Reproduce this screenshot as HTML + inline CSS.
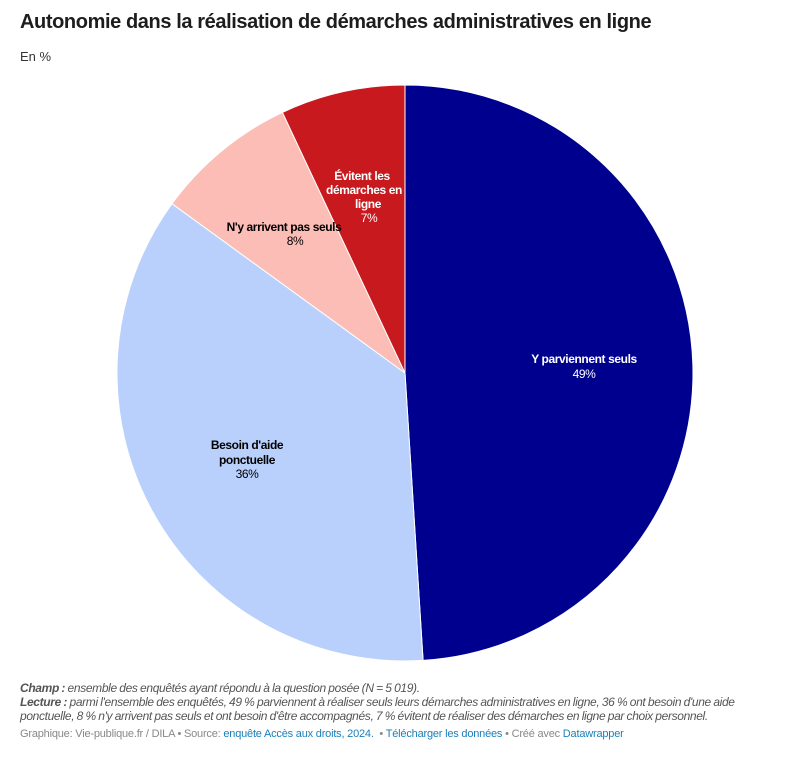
<!DOCTYPE html>
<html><head><meta charset="utf-8"><style>
body{margin:0;width:792px;height:775px;background:#fff;font-family:"Liberation Sans",sans-serif;position:relative;overflow:hidden}
.t{position:absolute;left:20px;top:11px;font-size:20px;font-weight:bold;color:#1d1d1d;letter-spacing:-0.4px}
.s{position:absolute;left:20px;top:49px;font-size:13px;color:#333}
.f{position:absolute;left:20px;top:681px;font-size:12px;color:#555;font-style:italic;line-height:14px;width:780px;letter-spacing:-0.35px;word-spacing:-0.5px}
.g{position:absolute;left:20px;top:728px;font-size:11px;color:#888;letter-spacing:-0.2px}
.g a{color:#1a7fb8;text-decoration:none}
</style></head><body>
<div class="t">Autonomie dans la réalisation de démarches administratives en ligne</div>
<div class="s">En %</div>
<svg width="792" height="775" style="position:absolute;left:0;top:0">
<g stroke="#fff" stroke-width="1">
<path d="M405,373 L405,85 A288,288 0 0 1 423.08,660.43 Z" fill="#00008f"/>
<path d="M405,373 L423.08,660.43 A288,288 0 0 1 172,203.7 Z" fill="#b8d0fb"/>
<path d="M405,373 L172,203.7 A288,288 0 0 1 282.4,112.4 Z" fill="#fbbdb6"/>
<path d="M405,373 L282.4,112.4 A288,288 0 0 1 405,85 Z" fill="#c8191e"/>
</g>
<g font-family="Liberation Sans,sans-serif" font-size="12" text-anchor="middle" letter-spacing="-0.4">
<text x="584" y="363" fill="#fff" font-weight="bold">Y parviennent seuls</text>
<text x="584" y="378" fill="#fff">49%</text>
<text x="247" y="449" fill="#000" font-weight="bold">Besoin d'aide</text>
<text x="247" y="464" fill="#000" font-weight="bold">ponctuelle</text>
<text x="247" y="478" fill="#000">36%</text>
<text x="284" y="231" fill="#000" font-weight="bold">N'y arrivent pas seuls</text>
<text x="295" y="245" fill="#000">8%</text>
<text x="362" y="180" fill="#fff" font-weight="bold">Évitent les</text>
<text x="364" y="194" fill="#fff" font-weight="bold">démarches en</text>
<text x="368" y="208" fill="#fff" font-weight="bold">ligne</text>
<text x="369" y="222" fill="#fff">7%</text>
</g>
</svg>
<div class="f"><b>Champ :</b> ensemble des enquêtés ayant répondu à la question posée (N = 5 019).<br><b>Lecture :</b> parmi l'ensemble des enquêtés, 49 % parviennent à réaliser seuls leurs démarches administratives en ligne, 36 % ont besoin d'une aide<br>ponctuelle, 8 % n'y arrivent pas seuls et ont besoin d'être accompagnés, 7 % évitent de réaliser des démarches en ligne par choix personnel.</div>
<div class="g">Graphique: Vie-publique.fr / DILA • Source: <a>enquête Accès aux droits, 2024.</a> &nbsp;• <a>Télécharger les données</a> • Créé avec <a>Datawrapper</a></div>
</body></html>
